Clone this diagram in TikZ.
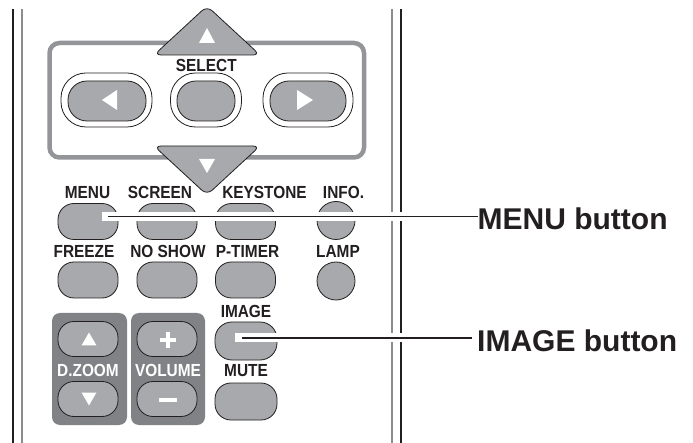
\documentclass[tikz,border=0pt]{standalone}
\usepackage{fontspec}
\setmainfont{Liberation Sans}
\newfontfamily\condfont[FakeStretch=0.88]{Liberation Sans}
\definecolor{btngray}{HTML}{A7A9AC}
\definecolor{rimgray}{HTML}{939598}
\definecolor{pangray}{HTML}{808285}
\definecolor{railgray}{HTML}{8A8C8E}
\definecolor{ink}{HTML}{231F20}
\begin{document}
\begin{tikzpicture}[x=1pt,y=-1pt,
  btn/.style={draw=ink, line width=0.8pt, fill=btngray, inner sep=0pt, outer sep=0pt,
              minimum width=60pt, minimum height=36pt, rounded corners=16pt},
  roundbtn/.style={draw=ink, line width=0.8pt, fill=btngray, inner sep=0pt, outer sep=0pt,
              circle, minimum size=38pt},
  ring/.style={draw=ink, line width=0.8pt, fill=white, inner sep=0pt, outer sep=0pt,
              minimum height=54pt, rounded corners=25pt},
  ringin/.style={draw=ink, line width=0.8pt, fill=btngray, inner sep=0pt, outer sep=0pt,
              minimum height=40pt, rounded corners=19pt},
  panelbox/.style={draw=rimgray, line width=4.5pt, inner sep=0pt, outer sep=0pt, rounded corners=10pt},
  darkpanel/.style={fill=pangray, draw=none, inner sep=0pt, outer sep=0pt, rounded corners=8pt},
  tri/.style={draw=ink, line width=0.8pt, fill=btngray, rounded corners=7pt},
  glyph/.style={fill=white, draw=none},
  lbl/.style={font=\condfont\bfseries\fontsize{17.5}{18}\selectfont, text=ink, inner sep=0pt, anchor=base},
  wlbl/.style={font=\condfont\bfseries\fontsize{17.5}{18}\selectfont, text=white, inner sep=0pt, anchor=base},
  big/.style={font=\bfseries\fontsize{30}{33}\selectfont, text=ink, inner sep=0pt, anchor=base west},
  leader/.style={draw=ink, line width=1.8pt},
  halo/.style={draw=white, line width=9pt},
  rail/.style={line width=1.3pt}
]
\useasboundingbox (0,0) rectangle (693,443);
\fill[white] (0,0) rectangle (693,443);

% side rails
\draw[rail, ink] (13,9) -- (13,443);
\draw[rail, railgray] (22,9) -- (22,443);
\draw[rail, railgray] (392,9) -- (392,443);
\draw[rail, ink] (401,9) -- (401,443);

% SELECT panel
\node[panelbox, minimum width=314.5pt, minimum height=114.5pt] (selpanel) at (206.75,100.25) {};

% up / down triangle keys
\draw[tri] (207,6) -- (260,55) -- (154,55) -- cycle;
\fill[glyph] (199,43) -- (215,43) -- (207,28) -- cycle;
\draw[tri] (154,146) -- (260,146) -- (207,195) -- cycle;
\fill[glyph] (199,159) -- (215,159) -- (207,173) -- cycle;

\node[lbl] (select) at (206.3,72) {SELECT};

% three oval keys with rings
\node[ring, minimum width=91pt] (lring) at (106.5,100) {};
\node[ringin, minimum width=78pt] (lkey) at (107,101) {};
\fill[glyph] (102,100) -- (117,90) -- (117,110) -- cycle;
\node[ring, minimum width=71pt] (mring) at (206,100) {};
\node[ringin, minimum width=58pt] (mkey) at (206,101) {};
\node[ring, minimum width=90pt] (rring) at (308,100) {};
\node[ringin, minimum width=76pt] (rkey) at (308,101) {};
\fill[glyph] (313,100) -- (297,90) -- (297,110) -- cycle;

% row 1
\node[lbl] (lmenu) at (87.5,199) {MENU};
\node[lbl] (lscreen) at (160,199) {SCREEN};
\node[lbl] (lkeystone) at (264.5,199) {KEYSTONE};
\node[lbl] (linfo) at (343.5,199) {INFO.};
\node[btn] (menu) at (88,221.5) {};
\node[btn] (screen) at (167,221.5) {};
\node[btn] (keystone) at (245.5,221.5) {};
\node[roundbtn] (info) at (336,220.5) {};

% row 2
\node[lbl] (lfreeze) at (84,258) {FREEZE};
\node[lbl] (lnoshow) at (168,258) {NO SHOW};
\node[lbl] (lptimer) at (247.5,258) {P-TIMER};
\node[lbl] (llamp) at (338,258) {LAMP};
\node[btn] (freeze) at (88,280) {};
\node[btn] (noshow) at (167,280) {};
\node[btn] (ptimer) at (245.5,280) {};
\node[roundbtn] (lamp) at (336,281) {};

% image / mute
\node[lbl] (limage) at (246,318) {IMAGE};
\node[btn, minimum width=62pt, minimum height=38pt, rounded corners=17pt] (image) at (246,341) {};
\node[lbl] (lmute) at (246,377) {MUTE};
\node[btn, minimum width=62pt, minimum height=37pt] (mute) at (246,401.5) {};

% D.ZOOM / VOLUME panels
\node[darkpanel, minimum width=75pt, minimum height=112pt] (zoompanel) at (89.5,369) {};
\node[darkpanel, minimum width=74pt, minimum height=112pt] (volpanel) at (168,369) {};
\node[btn, minimum height=35pt] (zoomup) at (88,339) {};
\fill[glyph] (81.5,345.5) -- (96.5,345.5) -- (89,332.5) -- cycle;
\node[wlbl] (lzoom) at (88,376.5) {D.ZOOM};
\node[btn, minimum height=35pt] (zoomdn) at (88,399) {};
\fill[glyph] (81.5,392.5) -- (96.5,392.5) -- (89,405.5) -- cycle;
\node[btn, minimum height=35pt] (volup) at (167,339) {};
\fill[glyph] (160,338) rectangle (176,342);
\fill[glyph] (166,332) rectangle (170,348);
\node[wlbl] (lvol) at (168,376.5) {VOLUME};
\node[btn, minimum height=35pt] (voldn) at (167,399) {};
\fill[glyph] (158.5,398) rectangle (176.5,402);

% callout labels
\node[big] (menulbl) at (477.5,230) {MENU button};
\node[big] (imagelbl) at (477,352) {IMAGE button};

% leaders
\coordinate (m0) at (102,216.5);
\coordinate (m1) at (108,216.5);
\coordinate (i0) at (235,337.7);
\coordinate (i1) at (242,337.7);
\draw[halo] (m0) -- (m0 -| menulbl.west);
\draw[leader] (m1) -- (m1 -| menulbl.west);
\draw[halo] (i0) -- ([xshift=-5pt]i0 -| imagelbl.west);
\draw[leader] (i1) -- ([xshift=-5pt]i1 -| imagelbl.west);
\end{tikzpicture}
\end{document}
